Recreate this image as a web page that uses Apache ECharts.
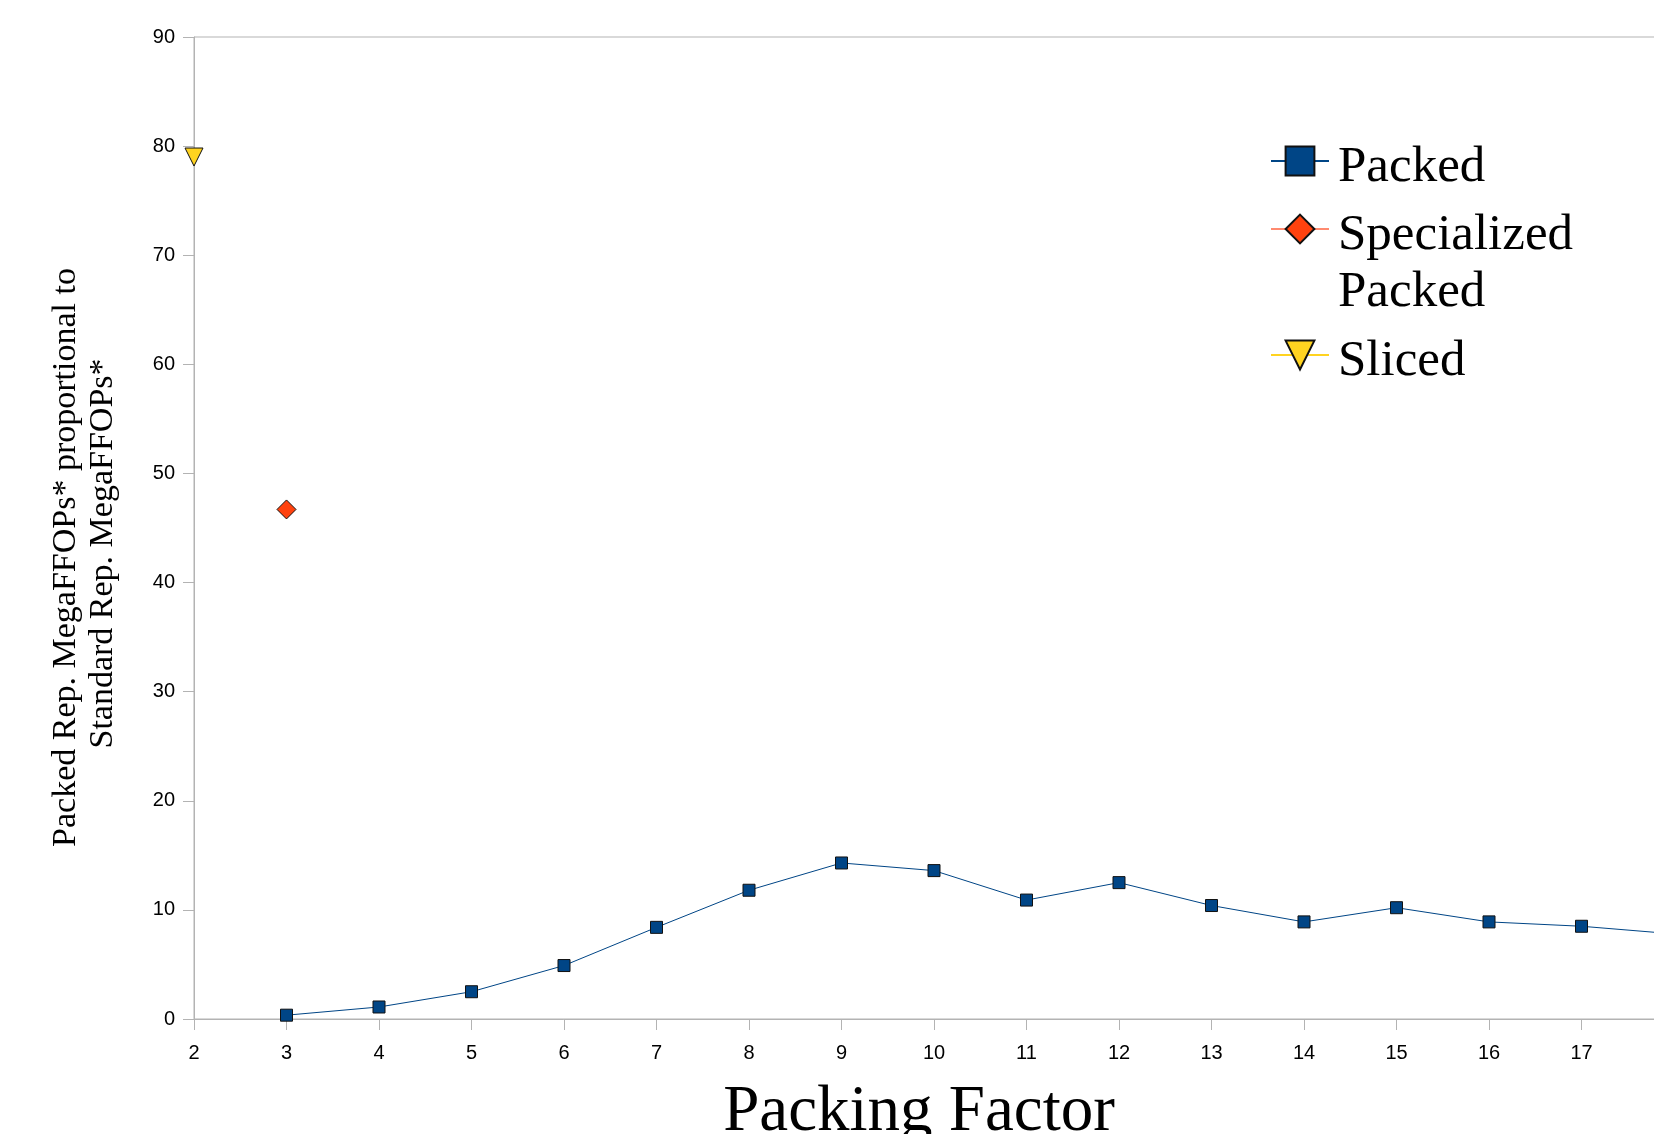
<!DOCTYPE html>
<html>
<head>
<meta charset="utf-8">
<script src="https://cdn.jsdelivr.net/npm/echarts@6/dist/echarts.min.js"></script>
<style>html,body{margin:0;padding:0;background:#fff;overflow:hidden;width:1654px;height:1134px;}#c{width:1720px;height:1134px;}</style>
</head>
<body>
<div id="c"></div>
<script>
const packedX = [3,4,5,6,7,8,9,10,11,12,13,14,15,16,17,18];
const packedY = [0.35,1.1,2.5,4.9,8.4,11.8,14.3,13.6,10.9,12.5,10.4,8.9,10.2,8.9,8.5,7.8];
const specializedX = [3];
const specializedY = [46.7];
const slicedX = [2];
const slicedY = [79.0];
const seriesNames = ['Packed','Specialized Packed','Sliced'];
const xTitle = 'Packing Factor';
const yTitle1 = 'Packed Rep. MegaFFOPs* proportional to';
const yTitle2 = 'Standard Rep. MegaFFOPs*';

const pairs = (xs, ys) => xs.map((x, i) => [x, ys[i]]);
const serif = '"Liberation Serif", "Times New Roman", serif';
const sans = '"Liberation Sans", Arial, sans-serif';
const downTri = 'path://M0,0 L10,0 L5,10 Z';

const chart = echarts.init(document.getElementById('c'), null, {renderer: 'canvas'});
const legendBase = {
  orient: 'vertical', left: 1270, padding: 0, itemWidth: 58, itemHeight: 36,
  textStyle: {fontFamily: serif, fontSize: 51, lineHeight: 57, color: '#000',
    rich: {
      s: {fontSize: 1, lineHeight: 14},
      a: {fontFamily: serif, fontSize: 51, lineHeight: 57, color: '#000', padding: [0,0,0,4]}
    }}
};
chart.setOption({
  animation: false,
  backgroundColor: '#fff',
  grid: {left: 194, top: 37, width: 1480, height: 982, show: true, borderColor: '#b3b3b3', borderWidth: 1, containLabel: false},
  xAxis: {
    type: 'value', min: 2, max: 18, interval: 1,
    axisLine: {lineStyle: {color: '#b3b3b3', width: 1}},
    axisTick: {show: true, length: 11, lineStyle: {color: '#b3b3b3'}},
    axisLabel: {color: '#000', fontFamily: sans, fontSize: 20, margin: 24},
    splitLine: {show: false}
  },
  yAxis: {
    type: 'value', min: 0, max: 90, interval: 10,
    axisLine: {show: true, lineStyle: {color: '#b3b3b3', width: 1}},
    axisTick: {show: true, length: 11, lineStyle: {color: '#b3b3b3'}},
    axisLabel: {color: '#000', fontFamily: sans, fontSize: 20, margin: 19},
    splitLine: {show: false}
  },
  legend: [
    Object.assign({}, legendBase, {top: 125.5, data: [seriesNames[0]],
      formatter: n => '{s| }\n{a|' + n + '}'}),
    Object.assign({}, legendBase, {top: 136.5, data: [seriesNames[1]],
      formatter: n => '{s| }\n{a| }\n{a|' + n.split(' ').join('}\n{a|') + '}'}),
    Object.assign({}, legendBase, {top: 319.5, data: [seriesNames[2]],
      formatter: n => '{s| }\n{a|' + n + '}'})
  ],
  series: [
    {name: seriesNames[0], type: 'line', data: pairs(packedX, packedY), symbol: 'rect', symbolSize: 12,
      lineStyle: {color: '#004586', width: 1}, itemStyle: {color: '#004586', borderColor: '#111', borderWidth: 1}},
    {name: seriesNames[1], type: 'line', data: pairs(specializedX, specializedY), symbol: 'diamond', symbolSize: 19,
      lineStyle: {color: '#ff8a70', width: 1}, itemStyle: {color: '#ff420e', borderColor: '#111', borderWidth: 1}},
    {name: seriesNames[2], type: 'line', data: pairs(slicedX, slicedY), symbol: downTri, symbolSize: 18,
      lineStyle: {color: '#ffd320', width: 1}, itemStyle: {color: '#ffd320', borderColor: '#111', borderWidth: 1}}
  ],
  graphic: [
    {type: 'text', x: 919, y: 1112.5, style: {text: xTitle, fontFamily: serif, fontSize: 65, fill: '#000', align: 'center', verticalAlign: 'middle'}},
    {type: 'text', x: 66.4, y: 557.5, rotation: Math.PI / 2, style: {text: yTitle1, fontFamily: serif, fontSize: 34, fill: '#000', align: 'center', verticalAlign: 'middle'}},
    {type: 'text', x: 103, y: 553.5, rotation: Math.PI / 2, style: {text: yTitle2, fontFamily: serif, fontSize: 34, fill: '#000', align: 'center', verticalAlign: 'middle'}}
  ]
});
</script>
</body>
</html>
